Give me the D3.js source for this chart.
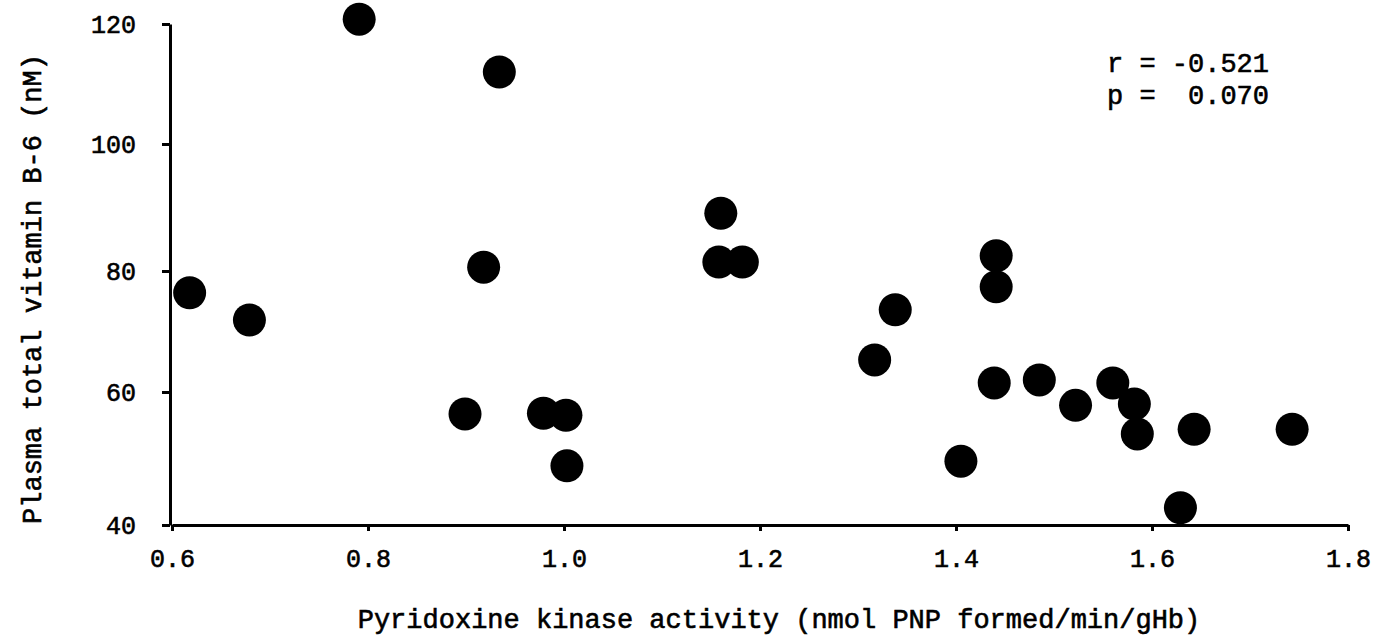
<!DOCTYPE html>
<html>
<head>
<meta charset="utf-8">
<script src="https://cdn.jsdelivr.net/npm/d3@7"></script>
<style>
  body { margin: 0; background: #fff; }
  text { font-family: "Liberation Mono", "DejaVu Sans Mono", monospace; fill: #000;
         stroke: #000; stroke-width: 0.6px; }
</style>
</head>
<body>
<script>
// values
var kinase = [0.618, 0.679, 0.791, 0.934, 0.918, 1.160, 1.158, 1.182, 0.899, 0.979, 1.002, 1.003,
              1.317, 1.338, 1.441, 1.441, 1.439, 1.405, 1.485, 1.522, 1.560, 1.582, 1.585, 1.643,
              1.743, 1.629];
var vitB6 = [76.4, 71.9, 120.8, 112.0, 80.6, 89.1, 81.4, 81.4, 56.7, 56.8, 56.5, 48.9,
             65.3, 73.6, 82.4, 77.4, 61.5, 49.6, 62.0, 58.0, 61.5, 58.2, 53.7, 54.4,
             54.4, 42.6];
var xTicks = [0.6, 0.8, 1.0, 1.2, 1.4, 1.6, 1.8];
var yTicks = [40, 60, 80, 100, 120];
var statLines = ["r = -0.521", "p =  0.070"];

var width = 1376, height = 637;

var data = kinase.map((k, i) => ({x: k, y: vitB6[i]}));

const svg = d3.select("body")
    .append("svg")
    .attr("width", width)
    .attr("height", height)
    .attr("viewBox", [0, 0, width, height]);

var xscale = d3.scaleLinear()
    .domain([0.6, 1.8])
    .range([172, 1348]);

// the printed y ticks are not quite evenly spaced, so follow them piecewise
var yscale = d3.scaleLinear()
    .domain(yTicks)
    .range([525, 392, 271, 144, 24]);

// x-axis
var gx = svg.append("g")
    .attr("transform", `translate(0,${yscale(40)})`)
    .call(d3.axisBottom(xscale).tickValues(xTicks).tickFormat(d3.format(".1f"))
        .tickSize(6).tickSizeOuter(0).tickPadding(18));
gx.selectAll("text").attr("font-size", 25).attr("font-family", "Liberation Mono");

// y-axis
var gy = svg.append("g")
    .attr("transform", `translate(${xscale(0.6) - 2},0)`)
    .call(d3.axisLeft(yscale).tickValues(yTicks)
        .tickSize(8).tickSizeOuter(0).tickPadding(26));
gy.selectAll("text").attr("font-size", 25).attr("font-family", "Liberation Mono");

svg.selectAll(".domain, .tick line")
    .attr("stroke", "#000")
    .attr("stroke-width", 3);

// points
svg.append("g")
    .selectAll("circle")
    .data(data)
    .join("circle")
    .attr("cx", d => xscale(d.x))
    .attr("cy", d => yscale(d.y))
    .attr("r", 16.5)
    .attr("fill", "#000");

// axis titles
svg.append("text")
    .attr("x", 779)
    .attr("y", 628)
    .attr("text-anchor", "middle")
    .attr("font-size", 27)
    .text("Pyridoxine kinase activity (nmol PNP formed/min/gHb)");

svg.append("text")
    .attr("transform", "translate(41,289) rotate(-90)")
    .attr("text-anchor", "middle")
    .attr("font-size", 27)
    .text("Plasma total vitamin B-6 (nM)");

// correlation note
svg.append("g")
    .selectAll("text")
    .data(statLines)
    .join("text")
    .attr("x", 1107)
    .attr("y", (d, i) => 72 + i * 32)
    .attr("font-size", 27)
    .style("white-space", "pre")
    .text(d => d);
</script>
</body>
</html>
